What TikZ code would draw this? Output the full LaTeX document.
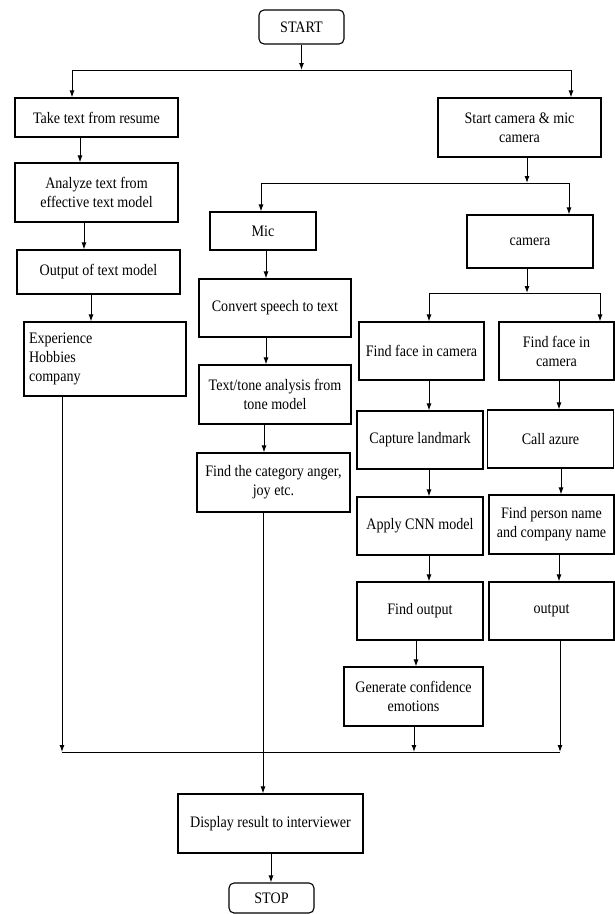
\documentclass[tikz,border=0pt]{standalone}
\usepackage{fontspec}
\setmainfont{Liberation Serif}[FakeStretch=0.88]
\usetikzlibrary{arrows.meta}
\tikzset{
  box/.style={draw, line width=1.1pt, align=center, inner sep=2pt,
    font=\fontsize{16}{19}\selectfont},
  term/.style={box, rounded corners=5pt},
  arr/.style={-{Latex[length=7pt,width=5pt]}, line width=1pt},
  flow/.style={line width=1pt}
}

\begin{document}
\begin{tikzpicture}[x=1pt, y=-1pt]
\useasboundingbox (0,0) rectangle (615,914);
% Terminals
    \node[term, minimum width=85pt, minimum height=34pt] (start) at (301.5,27) {START};
    \node[term, minimum width=85pt, minimum height=30pt] (stop) at (271.5,898) {STOP};
% Resume branch
    \node[box, minimum width=163pt, minimum height=39pt] (resume) at (96.5,117.5) {Take text from resume};
    \node[box, minimum width=163pt, minimum height=59pt] (analyze) at (96.5,192.5) {Analyze text from\\effective text model};
    \node[box, minimum width=163pt, minimum height=44pt] (textout) at (98.5,272) {Output of text model};
    \node[box, minimum width=162pt, minimum height=74pt, text width=152pt, align=left] (exper) at (105,359) {Experience\\Hobbies\\company\\[4pt]};
% Camera and mic
    \node[box, minimum width=163pt, minimum height=59pt] (cammic) at (519.5,127.5) {Start camera \& mic\\camera};
    \node[box, minimum width=106pt, minimum height=38pt] (mic) at (263,231) {Mic};
    \node[box, minimum width=126pt, minimum height=53pt] (camera) at (530,241.5) {camera};
% Mic branch
    \node[box, minimum width=152pt, minimum height=58pt] (speech) at (275,308) {Convert speech to text};
    \node[box, minimum width=152pt, minimum height=59pt] (tone) at (275,394.5) {Text/tone analysis from\\tone model};
    \node[box, minimum width=153pt, minimum height=59pt] (category) at (273.5,482.5) {Find the category anger,\\joy etc.};
% Face branch (emotions)
    \node[box, minimum width=125pt, minimum height=58pt] (faceL) at (421.5,351) {Find face in camera};
    \node[box, minimum width=126pt, minimum height=58pt] (capture) at (420,440) {Capture landmark};
    \node[box, minimum width=126pt, minimum height=58pt] (cnn) at (420,526) {Apply CNN model};
    \node[box, minimum width=126pt, minimum height=58pt] (findout) at (420,611) {Find output};
    \node[box, minimum width=139pt, minimum height=59pt] (generate) at (413.5,696.5) {Generate confidence\\emotions};
% Face branch (azure)
    \node[box, minimum width=115pt, minimum height=58pt] (faceR) at (556.5,351) {Find face in\\camera};
    \node[box, minimum width=126pt, minimum height=58pt] (azure) at (550.5,439) {Call azure};
    \node[box, minimum width=125pt, minimum height=59pt] (person) at (551.5,524.5) {Find person name\\and company name};
    \node[box, minimum width=125pt, minimum height=58pt] (output) at (551.5,611) {output};
% Result
    \node[box, minimum width=185pt, minimum height=59pt] (display) at (270.5,823.5) {Display result to interviewer};
% Split points
    \coordinate (s1) at (72,70);
    \coordinate (s2) at (571,70);
    \coordinate (m1) at (261,183);
    \coordinate (m2) at (569,183);
    \coordinate (c1) at (429,293);
    \coordinate (c2) at (600,293);
    \coordinate (j1) at (62,752);
    \coordinate (j2) at (560,752);
% Top split
    \draw[arr] (start.south) -- (start.south |- s1);
    \draw[flow] (s1) -- (s2);
    \draw[arr] (s1) -- (s1 |- resume.north);
    \draw[arr] (s2) -- (s2 |- cammic.north);
% Resume branch
    \draw[arr] (80,0 |- resume.south) -- (80,0 |- analyze.north);
    \draw[arr] (84,0 |- analyze.south) -- (84,0 |- textout.north);
    \draw[arr] (91,0 |- textout.south) -- (91,0 |- exper.north);
    \draw[arr] (j1 |- exper.south) -- (j1);
% Camera & mic split
    \draw[arr] (527,0 |- cammic.south) -- (527,0 |- m1);
    \draw[flow] (m1) -- (m2);
    \draw[arr] (m1) -- (m1 |- mic.north);
    \draw[arr] (m2) -- (m2 |- camera.north);
% Mic branch
    \draw[arr] (266,0 |- mic.south) -- (266,0 |- speech.north);
    \draw[arr] (266,0 |- speech.south) -- (266,0 |- tone.north);
    \draw[arr] (264,0 |- tone.south) -- (264,0 |- category.north);
    \draw[arr] (263,0 |- category.south) -- (263,0 |- display.north);
% Camera split
    \draw[arr] (527,0 |- camera.south) -- (527,0 |- c1);
    \draw[flow] (c1) -- (c2);
    \draw[arr] (c1) -- (c1 |- faceL.north);
    \draw[arr] (c2) -- (c2 |- faceR.north);
% Emotion branch
    \draw[arr] (429,0 |- faceL.south) -- (429,0 |- capture.north);
    \draw[arr] (429,0 |- capture.south) -- (429,0 |- cnn.north);
    \draw[arr] (429,0 |- cnn.south) -- (429,0 |- findout.north);
    \draw[arr] (416,0 |- findout.south) -- (416,0 |- generate.north);
    \draw[arr] (414,0 |- generate.south) -- (414,0 |- j1);
% Azure branch
    \draw[arr] (559,0 |- faceR.south) -- (559,0 |- azure.north);
    \draw[arr] (561,0 |- azure.south) -- (561,0 |- person.north);
    \draw[arr] (559,0 |- person.south) -- (559,0 |- output.north);
    \draw[arr] (j2 |- output.south) -- (j2);
% Join and finish
    \draw[flow] (j1) -- (j2);
    \draw[arr] (271,0 |- display.south) -- (271,0 |- stop.north);
\end{tikzpicture}
\end{document}
